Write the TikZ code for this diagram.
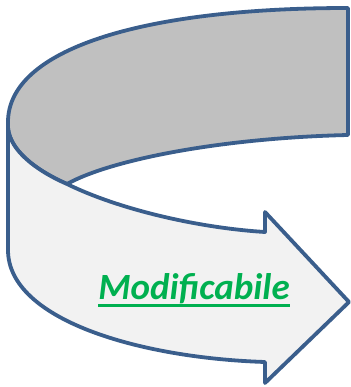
\documentclass[tikz,border=0pt]{standalone}
\usepackage{fontspec}
\newfontfamily\carlito{Carlito}
\definecolor{edge}{RGB}{58,94,140}
\definecolor{back}{RGB}{192,192,192}
\definecolor{front}{RGB}{242,242,242}
\definecolor{txtgreen}{RGB}{0,176,80}
\begin{document}
\begin{tikzpicture}[x=1pt,y=-1pt,line join=round]
\useasboundingbox (0,0) rectangle (350,387);
% back band
\draw[edge,line width=3.8pt,fill=back] (8,122) .. controls (8,50) and (140,8) .. (348,8)--(348,135)
  .. controls (220,138) and (110,160) .. (67,184) .. controls (35,170) and (10,150) .. (8,128)--cycle;
% front band with head
\draw[edge,line width=3.8pt,fill=front] (8,126)--(8,250) .. controls (8,320) and (140,358) .. (265,362)
  --(265,383)--(349,302)--(265,212)--(265,232) .. controls (200,228) and (120,210) .. (67,184)
  .. controls (35,170) and (10,150) .. (8,128)--cycle;
\node[inner sep=0,anchor=base,text=txtgreen,font=\carlito\bfseries\itshape\fontsize{37}{37}\selectfont] (lbl) at (194,299) {Modificabile};
\draw[txtgreen,line width=2.8pt] ([yshift=-6.5pt]lbl.base west)--([yshift=-6.5pt]lbl.base east);
\end{tikzpicture}
\end{document}
